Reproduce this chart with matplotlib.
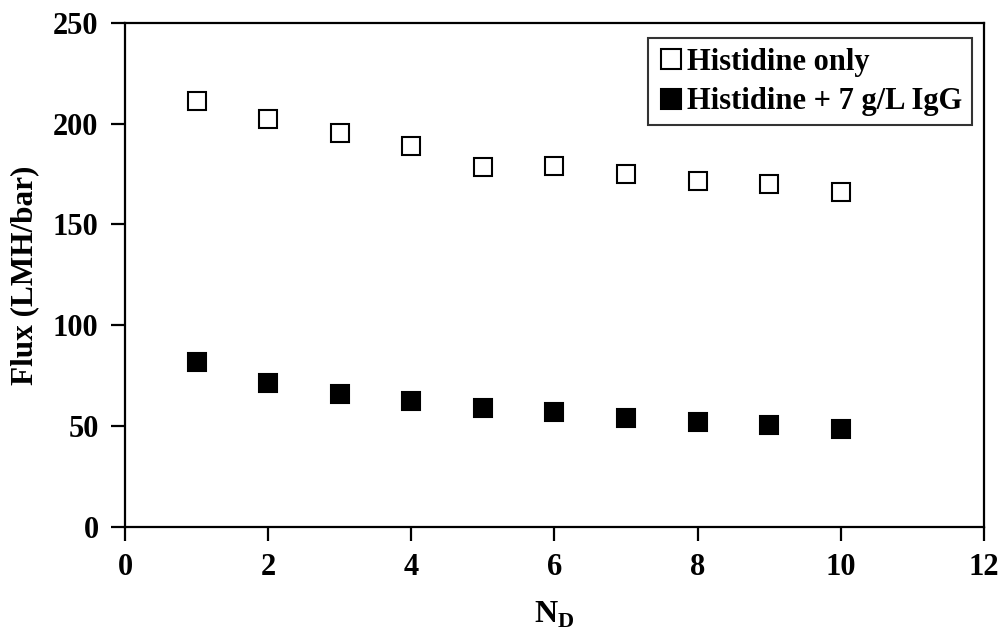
"""Flux vs N_D for histidine with and without IgG."""
import matplotlib

matplotlib.use("Agg")
import matplotlib.pyplot as plt  # noqa: E402

plt.rcParams["font.family"] = "Liberation Serif"
plt.rcParams["font.weight"] = "bold"
plt.rcParams["axes.labelweight"] = "bold"
plt.rcParams["mathtext.fontset"] = "custom"
plt.rcParams["mathtext.rm"] = "Liberation Serif:bold"
plt.rcParams["mathtext.bf"] = "Liberation Serif:bold"

n_d = [1, 2, 3, 4, 5, 6, 7, 8, 9, 10]
flux_his = [211, 202.5, 195.5, 189, 178.5, 179, 175, 171.5, 170, 166]
flux_igg = [82, 71.5, 66, 62.5, 59, 57, 54, 52, 50.5, 48.5]

fig = plt.figure(figsize=(10.08, 6.32), dpi=100)
ax = fig.add_axes([0.124, 0.166, 0.852, 0.798])

ax.plot(n_d, flux_his, ls="none", marker="s", ms=13.5, mfc="white",
        mec="black", mew=1.5, label="Histidine only")
ax.plot(n_d, flux_igg, ls="none", marker="s", ms=13.5, mfc="black",
        mec="black", mew=1.5, label="Histidine + 7 g/L IgG")

ax.set_xlim(0, 12)
ax.set_ylim(0, 250)
ax.set_xticks(range(0, 13, 2))
ax.set_yticks(range(0, 251, 50))
for s in ax.spines.values():
    s.set_linewidth(1.6)
ax.tick_params(direction="out", length=10, width=1.6, labelsize=22, pad=9)
ax.set_xlabel(r"N$_\mathbf{D}$", fontsize=23, labelpad=12)
ax.set_ylabel("Flux (LMH/bar)", fontsize=22.5, labelpad=10)

leg = ax.legend(loc="upper right", fontsize=22, frameon=True, fancybox=False,
                edgecolor="black", handlelength=0.9, handletextpad=0.1,
                borderpad=0.3, labelspacing=0.35, markerscale=1.05,
                borderaxespad=0, bbox_to_anchor=(0.986, 0.969))
leg.get_frame().set_linewidth(1.5)

fig.savefig("out.png", dpi=100)
plt.close(fig)
